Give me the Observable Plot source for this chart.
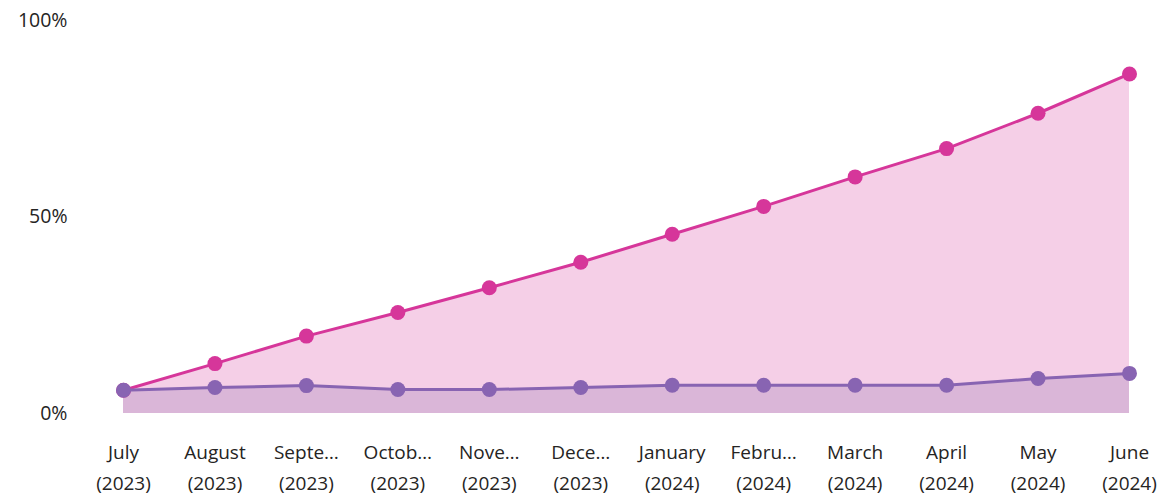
<!DOCTYPE html>
<html>
<head>
<meta charset="utf-8">
<script src="https://cdn.jsdelivr.net/npm/d3@7"></script>
<script src="https://cdn.jsdelivr.net/npm/@observablehq/plot@0.6"></script>
<style>
  html, body { margin: 0; padding: 0; background: #fff; }
  #chart svg { display: block; }
</style>
</head>
<body>
<div id="chart"></div>
<script>
const months = ["July", "August", "Septe…", "Octob…", "Nove…", "Dece…", "January", "Febru…", "March", "April", "May", "June"];
const years = ["2023", "2023", "2023", "2023", "2023", "2023", "2024", "2024", "2024", "2024", "2024", "2024"];
const seriesA = [5.9, 12.7, 19.7, 25.7, 32.0, 38.5, 45.6, 52.7, 60.2, 67.4, 76.4, 86.4];
const seriesB = [5.9, 6.6, 7.1, 6.1, 6.1, 6.6, 7.2, 7.2, 7.2, 7.2, 8.9, 10.2];
const yTicks = [0, 50, 100];

const labels = months.map((m, i) => `${m}\n(${years[i]})`);
const data = labels.map((l, i) => ({label: l, a: seriesA[i], b: seriesB[i]}));

const pinkLine = "#d6369a", pinkFill = "#f5cfe7";
const purpleLine = "#8864b2", purpleFill = "#dab6d8";

const chart = Plot.plot({
  width: 1159,
  height: 496,
  marginLeft: 123,
  marginRight: 30,
  marginTop: 20,
  marginBottom: 83,
  style: {fontFamily: "'Open Sans', 'Noto Sans', sans-serif", color: "#252423", background: "#fff"},
  x: {type: "point", domain: labels, padding: 0, round: false},
  y: {domain: [0, 100]},
  marks: [
    Plot.areaY(data, {x: "label", y: "a", fill: pinkFill}),
    Plot.areaY(data, {x: "label", y: "b", fill: purpleFill}),
    Plot.lineY(data, {x: "label", y: "a", stroke: pinkLine, strokeWidth: 3}),
    Plot.dot(data, {x: "label", y: "a", r: 7.5, fill: pinkLine}),
    Plot.lineY(data, {x: "label", y: "b", stroke: purpleLine, strokeWidth: 3}),
    Plot.dot(data, {x: "label", y: "b", r: 7.5, fill: purpleLine}),
    Plot.axisX({tickSize: 0, tickPadding: 24, fontSize: 19, lineHeight: 1.63, fill: "#252423", label: null}),
    Plot.axisY({ticks: yTicks, tickSize: 0, tickPadding: 56, fontSize: 19.5, tickFormat: d => d + "%", fill: "#252423", label: null})
  ]
});
document.getElementById("chart").appendChild(chart);
</script>
</body>
</html>
